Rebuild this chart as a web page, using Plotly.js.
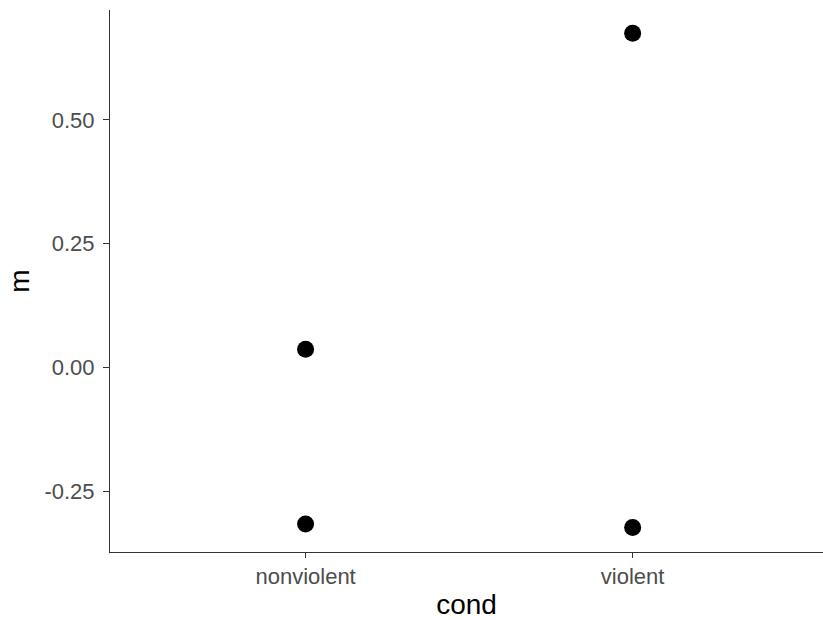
<!DOCTYPE html>
<html>
<head>
<meta charset="utf-8">
<script src="https://cdn.plot.ly/plotly-3.0.1.min.js"></script>
<style>
  html, body { margin: 0; padding: 0; background: #fff; }
  #chart { width: 823px; height: 620px; }
</style>
</head>
<body>
<div id="chart"></div>
<script>
// Mean score per condition
const cond = ["nonviolent", "nonviolent", "violent", "violent"];
const m = [0.037, -0.316, 0.675, -0.323];
const yTickVals = [-0.25, 0, 0.25, 0.5];
const yTickText = ["-0.25", "0.00", "0.25", "0.50"];

const trace = {
  type: "scatter",
  mode: "markers",
  x: cond,
  y: m,
  marker: { color: "#000", size: 17 },
  hoverinfo: "x+y"
};

const layout = {
  width: 823,
  height: 620,
  margin: { l: 110, r: 0, t: 10, b: 68 },
  paper_bgcolor: "#fff",
  plot_bgcolor: "#fff",
  font: { family: "Liberation Sans, Arial, sans-serif", color: "#000" },
  showlegend: false,
  xaxis: {
    type: "category",
    categoryorder: "array",
    categoryarray: ["nonviolent", "violent"],
    range: [-0.598, 1.582],
    showgrid: false,
    zeroline: false,
    showline: true,
    linecolor: "#333",
    linewidth: 1,
    ticks: "outside",
    ticklen: 5,
    tickcolor: "#333",
    tickfont: { size: 22, color: "#4d4d4d" },
    ticklabelstandoff: 0,
    title: { text: "cond", font: { size: 28, color: "#000" }, standoff: 10 }
  },
  yaxis: {
    range: [-0.3727, 0.722],
    tickvals: yTickVals,
    ticktext: yTickText,
    showgrid: false,
    zeroline: false,
    showline: true,
    linecolor: "#333",
    linewidth: 1,
    ticks: "outside",
    ticklen: 6,
    tickcolor: "#333",
    tickfont: { size: 22, color: "#4d4d4d" },
    ticklabelstandoff: 4,
    title: { text: "m", font: { size: 28, color: "#000" }, standoff: 6 }
  }
};

Plotly.newPlot("chart", [trace], layout, { displayModeBar: false, staticPlot: true });
</script>
</body>
</html>
